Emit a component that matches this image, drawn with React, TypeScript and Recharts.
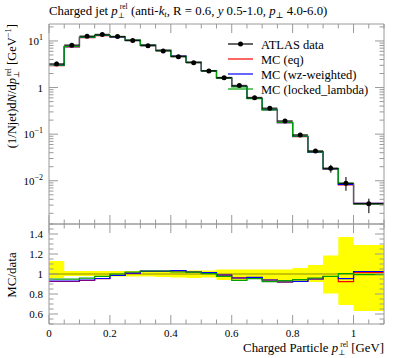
import React from 'react';
import { ComposedChart, Line, Scatter, ErrorBar, XAxis, YAxis, Area, ReferenceLine } from 'recharts';

// ---------------- data ----------------
const binEdges = [0, 0.05, 0.1, 0.15, 0.2, 0.25, 0.3, 0.35, 0.4, 0.45, 0.5, 0.55, 0.6, 0.65, 0.7, 0.75, 0.8, 0.85, 0.9, 0.95, 1.0, 1.1];
const atlasData = [3.2, 8.1, 12.6, 13.7, 12.4, 10.2, 7.9, 6.1, 4.6, 3.42, 2.27, 1.63, 1.1, 0.607, 0.359, 0.191, 0.096, 0.0435, 0.0185, 0.0088, 0.0032];
const bandUp = [1.13, 1.03, 1.03, 1.03, 1.03, 1.03, 1.03, 1.03, 1.04, 1.035, 1.035, 1.045, 1.045, 1.045, 1.045, 1.045, 1.06, 1.09, 1.185, 1.37, 1.29];
const bandDown = [0.96, 0.98, 0.98, 0.98, 0.975, 0.975, 0.975, 0.97, 0.965, 0.96, 0.965, 0.94, 0.94, 0.95, 0.93, 0.91, 0.92, 0.92, 0.805, 0.69, 0.63];
const ratioEq = [0.925, 0.925, 0.935, 0.953, 0.985, 1.006, 1.027, 1.027, 1.03, 1.02, 1.012, 0.988, 0.962, 0.965, 0.94, 0.92, 0.925, 0.95, 0.975, 0.923, 1.017];
const ratioWz = [0.93, 0.93, 0.94, 0.955, 0.987, 1.008, 1.028, 1.028, 1.033, 1.02, 1.013, 0.99, 0.96, 0.967, 0.94, 0.92, 0.927, 0.95, 0.975, 0.953, 1.025];
const ratioLocked = [0.948, 0.948, 0.958, 0.977, 1.0, 1.02, 1.03, 1.03, 1.02, 1.018, 1.003, 0.977, 0.937, 0.953, 0.923, 0.933, 0.943, 0.96, 0.977, 1.003, 0.993];

const seriesNames = ['ATLAS data', 'MC (eq)', 'MC (wz-weighted)', 'MC (locked_lambda)'];
const seriesColors = ['#000000', '#ff0000', '#0000ff', '#00a000'];

const xMajorTicks = [0, 0.2, 0.4, 0.6, 0.8, 1.0];
const xMajorLabels = ['0', '0.2', '0.4', '0.6', '0.8', '1'];
const xAllTicks = [0, 0.05, 0.1, 0.15, 0.2, 0.25, 0.3, 0.35, 0.4, 0.45, 0.5, 0.55, 0.6, 0.65, 0.7, 0.75, 0.8, 0.85, 0.9, 0.95, 1.0, 1.05, 1.1];
const yLogMajor = [0.01, 0.1, 1, 10];
const yLogMajorLabels = [['10', '\u22122'], ['10', '\u22121'], ['1', ''], ['10', '1']];
const ratioMajor = [0.6, 0.8, 1.0, 1.2, 1.4];
const ratioMajorLabels = ['0.6', '0.8', '1', '1.2', '1.4'];
const ratioAllTicks = [0.5, 0.55, 0.6, 0.65, 0.7, 0.75, 0.8, 0.85, 0.9, 0.95, 1.0, 1.05, 1.1, 1.15, 1.2, 1.25, 1.3, 1.35, 1.4, 1.45, 1.5];

const xDomain = [0, 1.1];
const yDomain = [0.00118, 23.1];
const ratioDomain = [0.5, 1.5];

// minor log ticks
const yLogAll: number[] = [];
for (let k = -3; k <= 1; k++) {
  for (let m = 1; m <= 9; m++) {
    const v = +(m * Math.pow(10, k)).toPrecision(6);
    if (v >= yDomain[0] && v <= yDomain[1]) yLogAll.push(v);
  }
}

const nBins = atlasData.length;
const histRows = binEdges.map((e, i) => {
  const b = Math.min(i, nBins - 1);
  return {
    x: e,
    eq: atlasData[b] * ratioEq[b],
    wz: atlasData[b] * ratioWz[b],
    locked: atlasData[b] * ratioLocked[b],
    rEq: ratioEq[b],
    rWz: ratioWz[b],
    rLocked: ratioLocked[b],
    band: [bandDown[b], bandUp[b]],
  };
});
const points = atlasData.map((v, i) => ({
  x: (binEdges[i] + binEdges[i + 1]) / 2,
  y: v,
  ex: (binEdges[i + 1] - binEdges[i]) / 2,
  ey: [v - v * bandDown[i], v * bandUp[i] - v],
}));

// ---------------- styling helpers ----------------
const FONT = 'Liberation Serif, DejaVu Serif, serif';
const AXIS = '#9a9a9a';
const SS = 7.5; // sub/sup font size

const findMajor = (v: number, majors: number[]) =>
  majors.findIndex((m) => Math.abs(m - v) <= 1e-6 * Math.max(Math.abs(m), 1e-3));

function makeTick(side: 'left' | 'right' | 'top' | 'bottom', majors: number[], label?: (idx: number) => React.ReactNode) {
  return (p: any) => {
    const { x, y, payload } = p;
    const idx = findMajor(payload.value, majors);
    const len = idx >= 0 ? 9 : 4.5;
    let x2 = x, y2 = y;
    if (side === 'left') x2 = x + len;
    if (side === 'right') x2 = x - len;
    if (side === 'top') y2 = y + len;
    if (side === 'bottom') y2 = y - len;
    let txt: React.ReactNode = null;
    if (idx >= 0 && label) {
      if (side === 'left') {
        txt = (
          <text x={x - 6} y={y + 4} textAnchor="end" fontFamily={FONT} fontSize={11} fill="#000">
            {label(idx)}
          </text>
        );
      } else if (side === 'bottom') {
        txt = (
          <text x={x} y={y + 13} textAnchor="middle" fontFamily={FONT} fontSize={11} fill="#000">
            {label(idx)}
          </text>
        );
      }
    }
    return (
      <g>
        <line x1={x} y1={y} x2={x2} y2={y2} stroke={AXIS} strokeWidth={1} />
        {txt}
      </g>
    );
  };
}

const logLabel = (i: number) => {
  const [base, exp] = yLogMajorLabels[i];
  return (
    <>
      {base}
      {exp ? (
        <tspan dy={-5} fontSize={8}>
          {exp}
        </tspan>
      ) : null}
    </>
  );
};

// p_perp^rel: subscript and superscript stacked
const PerpRel = () => (
  <>
    <tspan fontStyle="italic">p</tspan>
    <tspan dy={3} fontSize={SS}>{'\u22A5'}</tspan>
    <tspan dx={-5} dy={-8.5} fontSize={SS}>rel</tspan>
  </>
);

const DataDot = (p: any) => <circle cx={p.cx} cy={p.cy} r={2.5} fill="#000" />;

export default function App() {
  const axisLine = { stroke: AXIS, strokeWidth: 1 };
  return (
    <div style={{ position: 'absolute', left: 0, top: 0, width: 397, height: 358, background: '#fff' }}>
      {/* main panel */}
      <div style={{ position: 'absolute', left: 0, top: 0 }}>
        <ComposedChart width={397} height={358} data={histRows} margin={{ top: 23, right: 12, bottom: 133, left: 48 }}>
          <XAxis xAxisId="b" dataKey="x" type="number" domain={xDomain} allowDataOverflow ticks={xAllTicks} interval={0}
            orientation="bottom" height={1} tickSize={0} tickMargin={0} axisLine={axisLine} tickLine={false}
            tick={makeTick('bottom', xMajorTicks)} />
          <XAxis xAxisId="t" dataKey="x" type="number" domain={xDomain} allowDataOverflow ticks={xAllTicks} interval={0}
            orientation="top" height={1} tickSize={0} tickMargin={0} axisLine={axisLine} tickLine={false}
            tick={makeTick('top', xMajorTicks)} />
          <YAxis yAxisId="l" type="number" scale="log" domain={yDomain} allowDataOverflow ticks={yLogAll} interval={0}
            orientation="left" width={1} tickSize={0} tickMargin={0} axisLine={axisLine} tickLine={false}
            tick={makeTick('left', yLogMajor, logLabel)} />
          <YAxis yAxisId="r" type="number" scale="log" domain={yDomain} allowDataOverflow ticks={yLogAll} interval={0}
            orientation="right" width={1} tickSize={0} tickMargin={0} axisLine={axisLine} tickLine={false}
            tick={makeTick('right', yLogMajor)} />
          <Line xAxisId="b" yAxisId="l" type="stepAfter" dataKey="eq" stroke={seriesColors[1]} strokeWidth={1.2} dot={false} activeDot={false} isAnimationActive={false} />
          <Line xAxisId="b" yAxisId="l" type="stepAfter" dataKey="wz" stroke={seriesColors[2]} strokeWidth={1.2} dot={false} activeDot={false} isAnimationActive={false} />
          <Line xAxisId="b" yAxisId="l" type="stepAfter" dataKey="locked" stroke={seriesColors[3]} strokeWidth={1.2} dot={false} activeDot={false} isAnimationActive={false} />
          <Scatter xAxisId="b" yAxisId="l" data={points} dataKey="y" shape={DataDot} isAnimationActive={false}>
            <ErrorBar dataKey="ex" direction="x" width={0} stroke="#000" strokeWidth={1.6} strokeOpacity={0.75} isAnimationActive={false} />
            <ErrorBar dataKey="ey" direction="y" width={0} stroke="#555" strokeWidth={1.6} isAnimationActive={false} />
          </Scatter>
        </ComposedChart>
      </div>
      {/* ratio panel */}
      <div style={{ position: 'absolute', left: 0, top: 0 }}>
        <ComposedChart width={397} height={358} data={histRows} margin={{ top: 223, right: 12, bottom: 33, left: 48 }}>
          <XAxis xAxisId="b" dataKey="x" type="number" domain={xDomain} allowDataOverflow ticks={xAllTicks} interval={0}
            orientation="bottom" height={1} tickSize={0} tickMargin={0} axisLine={axisLine} tickLine={false}
            tick={makeTick('bottom', xMajorTicks, (i) => xMajorLabels[i])} />
          <XAxis xAxisId="t" dataKey="x" type="number" domain={xDomain} allowDataOverflow ticks={xAllTicks} interval={0}
            orientation="top" height={1} tickSize={0} tickMargin={0} axisLine={axisLine} tickLine={false}
            tick={makeTick('top', xMajorTicks)} />
          <YAxis yAxisId="l" type="number" domain={ratioDomain} allowDataOverflow ticks={ratioAllTicks} interval={0}
            orientation="left" width={1} tickSize={0} tickMargin={0} axisLine={axisLine} tickLine={false}
            tick={makeTick('left', ratioMajor, (i) => ratioMajorLabels[i])} />
          <YAxis yAxisId="r" type="number" domain={ratioDomain} allowDataOverflow ticks={ratioAllTicks} interval={0}
            orientation="right" width={1} tickSize={0} tickMargin={0} axisLine={axisLine} tickLine={false}
            tick={makeTick('right', ratioMajor)} />
          <Area xAxisId="b" yAxisId="l" type="stepAfter" dataKey="band" fill="#ffff00" fillOpacity={1} stroke="none" isAnimationActive={false} activeDot={false} />
          <ReferenceLine xAxisId="b" yAxisId="l" y={1} stroke="#000" strokeOpacity={0.45} strokeWidth={1} />
          <Line xAxisId="b" yAxisId="l" type="stepAfter" dataKey="rEq" stroke={seriesColors[1]} strokeWidth={1.2} dot={false} activeDot={false} isAnimationActive={false} />
          <Line xAxisId="b" yAxisId="l" type="stepAfter" dataKey="rWz" stroke={seriesColors[2]} strokeWidth={1.2} dot={false} activeDot={false} isAnimationActive={false} />
          <Line xAxisId="b" yAxisId="l" type="stepAfter" dataKey="rLocked" stroke={seriesColors[3]} strokeWidth={1.2} dot={false} activeDot={false} isAnimationActive={false} />
        </ComposedChart>
      </div>
      {/* texts */}
      <svg width={397} height={358} style={{ position: 'absolute', left: 0, top: 0, pointerEvents: 'none' }} fontFamily={FONT}>
        <text x={49} y={14.5} fontSize={12.8} fill="#000">
          Charged jet <PerpRel />
          <tspan dy={5.5}> (anti-</tspan>
          <tspan fontStyle="italic">k</tspan>
          <tspan dy={2} fontSize={SS + 1} fontStyle="italic">t</tspan>
          <tspan dy={-2}>, R = 0.6, </tspan>
          <tspan fontStyle="italic">y</tspan>
          <tspan> 0.5-1.0, </tspan>
          <tspan fontStyle="italic">p</tspan>
          <tspan dy={3} fontSize={SS + 1}>{'\u22A5'}</tspan>
          <tspan dy={-3}> 4.0-6.0)</tspan>
        </text>
        {/* y title main */}
        <text x={16} y={24} fontSize={12.5} fill="#000" textAnchor="end" transform="rotate(-90 16 24)">
          (1/Njet)d<tspan fontStyle="italic">N</tspan>/d<PerpRel />
          <tspan dy={5.5}> [GeV</tspan>
          <tspan dy={-5} fontSize={SS + 1}>{'\u22121'}</tspan>
          <tspan dy={5}>]</tspan>
        </text>
        {/* y title ratio */}
        <text x={16} y={275} fontSize={13} fill="#000" textAnchor="middle" transform="rotate(-90 16 275)">
          MC/data
        </text>
        {/* x title */}
        <text x={384} y={352} fontSize={12.8} fill="#000" textAnchor="end">
          Charged Particle <PerpRel />
          <tspan dy={5.5}> [GeV]</tspan>
        </text>
        {/* legend */}
        {seriesNames.map((name, i) => {
          const y = 44 + i * 15;
          return (
            <g key={name}>
              <line x1={228} x2={253} y1={y} y2={y} stroke={seriesColors[i]} strokeWidth={i === 0 ? 1.6 : 1.2} strokeOpacity={i === 0 ? 0.75 : 1} />
              {i === 0 ? <circle cx={240.5} cy={y} r={2.5} fill="#000" /> : null}
              <text x={261} y={y + 4.5} fontSize={12.5} fill="#000">{name}</text>
            </g>
          );
        })}
      </svg>
    </div>
  );
}
